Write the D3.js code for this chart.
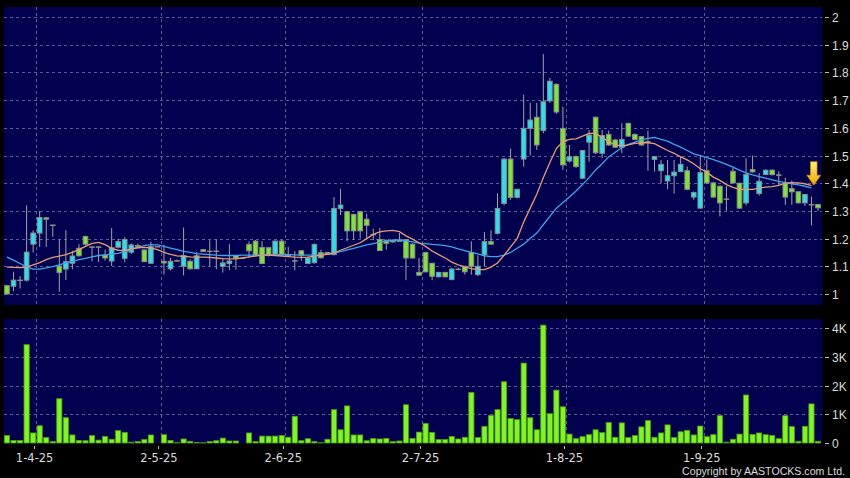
<!DOCTYPE html>
<html><head><meta charset="utf-8">
<script src="https://cdn.jsdelivr.net/npm/d3@7"></script>
<style>html,body{margin:0;padding:0;background:#000;}svg{display:block;}</style>
</head><body>
<svg id="chart" width="850" height="478"></svg>
<script>
// ---- data ----
const opens = [1.03,1.028,1.05,1.05,1.18,1.22,1.275,1.249,1.101,1.09,1.111,1.165,1.208,1.17,1.17,1.141,1.119,1.169,1.129,1.151,1.175,1.159,1.111,1.171,1.118,1.091,1.12,1.1,1.118,1.091,1.16,1.155,1.155,1.1,1.11,1.139,1.13,1.179,1.191,1.168,1.167,1.144,1.191,1.14,1.12,1.156,1.11,1.113,1.149,1.15,1.142,1.309,1.297,1.287,1.297,1.27,1.215,1.197,1.194,1.194,1.194,1.196,1.18,1.078,1.15,1.111,1.062,1.078,1.052,1.09,1.1,1.15,1.07,1.141,1.189,1.219,1.327,1.487,1.349,1.487,1.598,1.638,1.59,1.697,1.757,1.598,1.48,1.496,1.418,1.548,1.638,1.508,1.576,1.556,1.53,1.616,1.576,1.568,1.55,1.486,1.445,1.408,1.427,1.442,1.445,1.35,1.31,1.445,1.401,1.389,1.343,1.443,1.4,1.329,1.449,1.363,1.431,1.447,1.43,1.401,1.38,1.369,1.329,1.323,1.323];
const highs = [1.032,1.08,1.065,1.32,1.23,1.30,1.278,1.25,1.197,1.23,1.156,1.18,1.21,1.172,1.171,1.16,1.238,1.2,1.205,1.182,1.182,1.16,1.189,1.171,1.178,1.13,1.125,1.24,1.125,1.151,1.162,1.194,1.197,1.13,1.18,1.14,1.13,1.19,1.195,1.19,1.17,1.193,1.195,1.17,1.155,1.158,1.135,1.182,1.16,1.152,1.35,1.38,1.3,1.29,1.3,1.29,1.236,1.238,1.196,1.196,1.22,1.197,1.182,1.13,1.152,1.112,1.08,1.08,1.095,1.095,1.1,1.19,1.14,1.224,1.23,1.364,1.49,1.525,1.38,1.72,1.69,1.69,1.866,1.78,1.76,1.676,1.538,1.5,1.52,1.592,1.64,1.592,1.59,1.56,1.616,1.618,1.58,1.57,1.59,1.498,1.484,1.484,1.484,1.498,1.46,1.37,1.5,1.486,1.405,1.392,1.39,1.455,1.402,1.49,1.5,1.437,1.45,1.45,1.443,1.42,1.41,1.37,1.36,1.352,1.325];
const lows = [0.998,1.01,1.02,1.045,1.15,1.17,1.17,1.207,1.008,1.05,1.089,1.135,1.175,1.118,1.115,1.12,1.101,1.165,1.115,1.145,1.165,1.115,1.11,1.171,1.07,1.085,1.118,1.067,1.088,1.09,1.152,1.1,1.089,1.077,1.086,1.088,1.13,1.13,1.138,1.108,1.135,1.14,1.138,1.14,1.086,1.12,1.108,1.11,1.128,1.142,1.14,1.285,1.19,1.195,1.2,1.2,1.195,1.155,1.16,1.186,1.19,1.05,1.128,1.066,1.078,1.05,1.06,1.06,1.05,1.085,1.07,1.07,1.065,1.1,1.178,1.215,1.32,1.34,1.345,1.46,1.5,1.52,1.58,1.69,1.65,1.448,1.475,1.455,1.415,1.478,1.505,1.49,1.535,1.528,1.508,1.568,1.555,1.535,1.445,1.442,1.4,1.378,1.362,1.44,1.375,1.34,1.308,1.398,1.348,1.28,1.3,1.398,1.308,1.32,1.438,1.355,1.43,1.428,1.39,1.322,1.322,1.327,1.318,1.247,1.3];
const closes = [1.0,1.05,1.05,1.151,1.22,1.276,1.27,1.249,1.078,1.117,1.137,1.138,1.18,1.17,1.17,1.13,1.167,1.189,1.197,1.177,1.172,1.117,1.171,1.171,1.112,1.118,1.12,1.139,1.091,1.138,1.154,1.155,1.155,1.112,1.119,1.13,1.13,1.156,1.14,1.11,1.14,1.191,1.14,1.14,1.12,1.14,1.13,1.179,1.131,1.144,1.309,1.321,1.228,1.228,1.228,1.248,1.215,1.157,1.183,1.188,1.19,1.13,1.13,1.068,1.08,1.064,1.078,1.062,1.09,1.09,1.08,1.1,1.1,1.189,1.18,1.309,1.487,1.349,1.378,1.598,1.628,1.538,1.694,1.768,1.657,1.466,1.496,1.46,1.518,1.574,1.51,1.572,1.538,1.53,1.558,1.57,1.558,1.538,1.55,1.496,1.468,1.427,1.44,1.468,1.378,1.366,1.438,1.401,1.35,1.329,1.343,1.401,1.31,1.431,1.441,1.407,1.447,1.431,1.43,1.35,1.369,1.329,1.359,1.323,1.311];
const volumes = [260,90,90,3420,350,600,190,50,1540,880,280,90,80,260,100,230,130,430,370,30,50,120,280,0,290,90,10,140,60,20,10,50,80,170,70,70,0,350,50,240,240,240,260,200,930,80,150,50,10,130,1160,460,1290,280,280,80,160,140,160,50,70,1330,160,380,680,370,120,120,230,140,200,1760,190,580,960,1160,2130,850,810,2780,880,460,4100,1020,1840,1260,310,150,220,290,460,360,710,200,700,190,260,560,780,200,350,630,190,390,440,280,590,220,290,950,30,130,310,1670,300,350,290,260,150,950,570,60,580,1360,60];
const maShort = [1.097,1.096,1.095,1.097,1.105,1.113,1.124,1.132,1.137,1.142,1.15,1.16,1.172,1.183,1.186,1.178,1.165,1.158,1.157,1.163,1.167,1.168,1.166,1.16,1.15,1.143,1.138,1.136,1.134,1.133,1.133,1.132,1.13,1.128,1.127,1.127,1.13,1.134,1.137,1.14,1.14,1.139,1.137,1.135,1.133,1.132,1.133,1.137,1.14,1.143,1.148,1.158,1.167,1.176,1.185,1.2,1.215,1.224,1.228,1.23,1.225,1.21,1.198,1.185,1.172,1.155,1.142,1.13,1.115,1.105,1.098,1.092,1.088,1.088,1.097,1.112,1.14,1.17,1.2,1.26,1.31,1.36,1.42,1.475,1.525,1.55,1.558,1.56,1.57,1.58,1.58,1.565,1.55,1.538,1.535,1.538,1.544,1.546,1.546,1.543,1.53,1.518,1.508,1.495,1.484,1.47,1.452,1.44,1.422,1.41,1.395,1.385,1.378,1.378,1.378,1.382,1.386,1.388,1.392,1.4,1.402,1.401,1.398,1.391];
const maLong = [1.133,1.122,1.11,1.098,1.09,1.09,1.094,1.099,1.105,1.112,1.118,1.124,1.129,1.134,1.139,1.141,1.144,1.147,1.153,1.16,1.168,1.175,1.178,1.177,1.172,1.166,1.16,1.154,1.15,1.146,1.144,1.142,1.14,1.139,1.139,1.139,1.14,1.14,1.14,1.14,1.14,1.141,1.142,1.142,1.141,1.14,1.14,1.14,1.141,1.144,1.148,1.153,1.159,1.165,1.171,1.177,1.182,1.187,1.19,1.194,1.195,1.192,1.188,1.184,1.182,1.179,1.177,1.175,1.17,1.163,1.157,1.15,1.145,1.138,1.135,1.135,1.14,1.15,1.165,1.18,1.2,1.22,1.25,1.28,1.31,1.33,1.35,1.372,1.395,1.42,1.448,1.47,1.495,1.512,1.528,1.54,1.548,1.556,1.562,1.565,1.558,1.552,1.54,1.53,1.518,1.506,1.5,1.492,1.485,1.477,1.468,1.458,1.447,1.437,1.43,1.424,1.418,1.412,1.407,1.402,1.398,1.394,1.389,1.383];
const tickIndex = [4, 23, 42, 63, 85, 106];
const tickLabels = ["1-4-25", "2-5-25", "2-6-25", "2-7-25", "1-8-25", "1-9-25"];
const priceTicks = [1, 1.1, 1.2, 1.3, 1.4, 1.5, 1.6, 1.7, 1.8, 1.9, 2];
const priceTickLabels = ["1", "1.1", "1.2", "1.3", "1.4", "1.5", "1.6", "1.7", "1.8", "1.9", "2"];
const volTicks = [0, 1000, 2000, 3000, 4000];
const volTickLabels = ["0", "1K", "2K", "3K", "4K"];
const markerIndex = 123;
const markerPrice = 1.393;

// ---- drawing ----
const svg = d3.select("#chart");
const W = 850, H = 478;
const panel = {left: 4, right: 822};
const pricePanel = {top: 7, bottom: 305};
const volPanel = {top: 319, bottom: 443};

const x = d3.scaleLinear().domain([0, opens.length - 1]).range([7, 818]);
const step = x(1) - x(0);
const y = d3.scaleLinear().domain([1, 2]).range([294, 17]);
const yv = d3.scaleLinear().domain([0, 4000]).range([443, 328]);

const gridColor = "#5b5b95";
const cyan = "#24e3ee", green = "#7ee62c";
const outline = "#8e8e8e", wickColor = "#a4a4a4";
const textColor = "#dcdcdc";

svg.append("rect").attr("width", W).attr("height", H).attr("fill", "#000");
svg.append("rect").attr("x", panel.left).attr("y", pricePanel.top)
  .attr("width", panel.right - panel.left).attr("height", pricePanel.bottom - pricePanel.top).attr("fill", "#00004f");
svg.append("rect").attr("x", panel.left).attr("y", volPanel.top)
  .attr("width", panel.right - panel.left).attr("height", volPanel.bottom - volPanel.top).attr("fill", "#00004f");

// horizontal grid (price)
const g = svg.append("g");
g.selectAll("line.hp").data(priceTicks).join("line")
  .attr("x1", panel.left).attr("x2", panel.right)
  .attr("y1", d => Math.round(y(d)) + 0.5).attr("y2", d => Math.round(y(d)) + 0.5)
  .attr("stroke", gridColor).attr("stroke-dasharray", "3,3").attr("stroke-width", 1);
// horizontal grid (volume)
g.selectAll("line.hv").data(volTicks.filter(d => d > 0)).join("line")
  .attr("x1", panel.left).attr("x2", panel.right)
  .attr("y1", d => Math.round(yv(d)) + 0.5).attr("y2", d => Math.round(yv(d)) + 0.5)
  .attr("stroke", gridColor).attr("stroke-dasharray", "3,3").attr("stroke-width", 1);
// vertical grid
tickIndex.forEach(i => {
  const gx = Math.round(x(i) + step / 2) + 0.5;
  [[pricePanel.top, pricePanel.bottom], [volPanel.top, volPanel.bottom]].forEach(([a, b]) => {
    g.append("line").attr("x1", gx).attr("x2", gx).attr("y1", a).attr("y2", b)
      .attr("stroke", gridColor).attr("stroke-dasharray", "3,3");
  });
});

// candles
const bw = 4.6;
const cg = svg.append("g");
opens.forEach((o, i) => {
  const cx = x(i);
  const c = closes[i];
  cg.append("line").attr("x1", cx).attr("x2", cx)
    .attr("y1", y(highs[i])).attr("y2", y(lows[i]))
    .attr("stroke", wickColor).attr("stroke-width", 1);
  const top = y(Math.max(o, c)), bot = y(Math.min(o, c));
  cg.append("rect").attr("x", cx - bw / 2).attr("y", top)
    .attr("width", bw).attr("height", Math.max(0.4, bot - top))
    .attr("fill", c > o ? cyan : green)
    .attr("stroke", outline).attr("stroke-width", 1);
});

// moving averages
const lineGen = d3.line().x((d, i) => x(i)).y(d => y(d));
svg.append("path").datum(maLong).attr("d", lineGen)
  .attr("fill", "none").attr("stroke", "#3fa3ec").attr("stroke-width", 1.3);
svg.append("path").datum(maShort).attr("d", lineGen)
  .attr("fill", "none").attr("stroke", "#e89a72").attr("stroke-width", 1.3);

// marker arrow
const defs = svg.append("defs");
const grad = defs.append("linearGradient").attr("id", "arrowGrad")
  .attr("x1", 0).attr("y1", 0).attr("x2", 0).attr("y2", 1);
grad.append("stop").attr("offset", "0%").attr("stop-color", "#fff06a");
grad.append("stop").attr("offset", "100%").attr("stop-color", "#f2a300");
const ax = x(markerIndex) + 2.3, ay = y(markerPrice);
svg.append("path")
  .attr("d", `M${ax},${ay} L${ax - 7},${ay - 10} L${ax - 3.3},${ay - 10} L${ax - 3.3},${ay - 23.5} L${ax + 3.3},${ay - 23.5} L${ax + 3.3},${ay - 10} L${ax + 7},${ay - 10} Z`)
  .attr("fill", "url(#arrowGrad)").attr("stroke", "#d98a00").attr("stroke-width", 0.6);

// volume bars
svg.append("g").selectAll("rect").data(volumes).join("rect")
  .attr("x", (d, i) => x(i) - 2.6).attr("width", 5.2)
  .attr("y", d => yv(d)).attr("height", d => yv(0) - yv(d))
  .attr("fill", "#80f51f").attr("stroke", "#4d9c12").attr("stroke-width", 0.8)
  .attr("display", d => d > 0 ? null : "none");

// right axes
const ra = svg.append("g").attr("font-family", "'Liberation Sans', Arial, sans-serif")
  .attr("font-size", 12).attr("fill", textColor);
priceTicks.forEach((t, k) => {
  const ty = Math.round(y(t)) + 0.5;
  ra.append("line").attr("x1", 825).attr("x2", 829).attr("y1", ty).attr("y2", ty).attr("stroke", "#bbbbbb");
  ra.append("text").attr("x", 832).attr("y", ty).attr("dy", "0.36em").text(priceTickLabels[k]);
});
volTicks.forEach((t, k) => {
  const ty = Math.round(yv(t)) + 0.5;
  ra.append("line").attr("x1", 825).attr("x2", 829).attr("y1", ty).attr("y2", ty).attr("stroke", "#bbbbbb");
  ra.append("text").attr("x", 832).attr("y", ty).attr("dy", "0.36em").text(volTickLabels[k]);
});

// bottom axis
const ba = svg.append("g").attr("font-family", "'DejaVu Sans', sans-serif")
  .attr("font-size", 11.5).attr("fill", textColor).attr("text-anchor", "middle");
tickIndex.forEach((i, k) => {
  const tx = Math.round(x(i) + 1) + 0.5;
  ba.append("line").attr("x1", tx).attr("x2", tx).attr("y1", 446).attr("y2", 449).attr("stroke", "#bbbbbb");
  ba.append("text").attr("x", x(i) + 1.5).attr("y", 462).text(tickLabels[k]);
});

svg.append("text").attr("x", 845).attr("y", 475).attr("text-anchor", "end")
  .attr("font-family", "'Liberation Sans', Arial, sans-serif").attr("font-size", 10.6)
  .attr("fill", textColor).text("Copyright by AASTOCKS.com Ltd.");
</script>
</body></html>
